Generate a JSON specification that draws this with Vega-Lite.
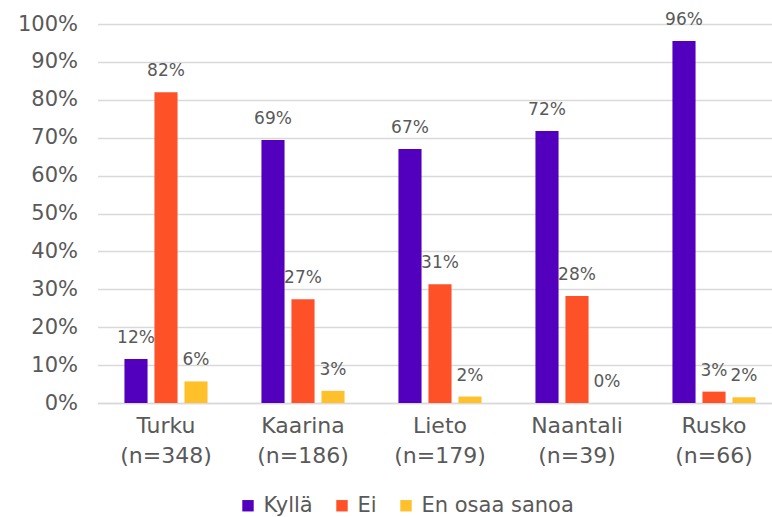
{
  "$schema": "https://vega.github.io/schema/vega-lite/v6.json",
  "autosize": "none",
  "width": 685,
  "height": 379,
  "padding": {"left": 97.5, "top": 24, "right": 0, "bottom": 114},
  "background": "white",
  "config": {
    "view": {"stroke": null},
    "font": "DejaVu Sans",
    "axis": {"labelColor": "#595959", "labelFont": "DejaVu Sans", "title": null}
  },
  "data": {
    "values": [
      {"city": "Turku|(n=348)", "series": "Kyllä", "value": 11.6, "label": "12%"},
      {"city": "Turku|(n=348)", "series": "Ei", "value": 82, "label": "82%"},
      {"city": "Turku|(n=348)", "series": "En osaa sanoa", "value": 5.7, "label": "6%"},
      {"city": "Kaarina|(n=186)", "series": "Kyllä", "value": 69.4, "label": "69%"},
      {"city": "Kaarina|(n=186)", "series": "Ei", "value": 27.4, "label": "27%"},
      {"city": "Kaarina|(n=186)", "series": "En osaa sanoa", "value": 3.2, "label": "3%"},
      {"city": "Lieto|(n=179)", "series": "Kyllä", "value": 67, "label": "67%"},
      {"city": "Lieto|(n=179)", "series": "Ei", "value": 31.3, "label": "31%"},
      {"city": "Lieto|(n=179)", "series": "En osaa sanoa", "value": 1.7, "label": "2%"},
      {"city": "Naantali|(n=39)", "series": "Kyllä", "value": 71.8, "label": "72%"},
      {"city": "Naantali|(n=39)", "series": "Ei", "value": 28.2, "label": "28%"},
      {"city": "Naantali|(n=39)", "series": "En osaa sanoa", "value": 0, "label": "0%"},
      {"city": "Rusko|(n=66)", "series": "Kyllä", "value": 95.5, "label": "96%"},
      {"city": "Rusko|(n=66)", "series": "Ei", "value": 3, "label": "3%"},
      {"city": "Rusko|(n=66)", "series": "En osaa sanoa", "value": 1.5, "label": "2%"}
    ]
  },
  "encoding": {
    "x": {
      "field": "city",
      "type": "nominal",
      "sort": null,
      "scale": {"paddingInner": 0.343, "paddingOuter": 0.1715},
      "axis": {
        "labelExpr": "split(datum.label, '|')",
        "labelAngle": 0,
        "labelFontSize": 22,
        "labelLineHeight": 30,
        "labelPadding": 12,
        "ticks": false,
        "domainColor": "#d9d9d9",
        "domainWidth": 1.5
      }
    },
    "xOffset": {
      "field": "series",
      "type": "nominal",
      "sort": ["Kyllä", "Ei", "En osaa sanoa"],
      "scale": {"paddingInner": 0.23, "paddingOuter": 0.115}
    },
    "y": {
      "field": "value",
      "type": "quantitative",
      "scale": {"domain": [0, 100], "nice": false},
      "axis": {
        "values": [0, 10, 20, 30, 40, 50, 60, 70, 80, 90, 100],
        "labelExpr": "datum.value + '%'",
        "labelFontSize": 21,
        "labelPadding": 20,
        "ticks": false,
        "domain": false,
        "grid": true,
        "gridColor": "#d9d9d9",
        "gridWidth": 1.5
      }
    }
  },
  "layer": [
    {
      "mark": {"type": "bar"},
      "encoding": {
        "color": {
          "field": "series",
          "type": "nominal",
          "sort": ["Kyllä", "Ei", "En osaa sanoa"],
          "scale": {"domain": ["Kyllä", "Ei", "En osaa sanoa"], "range": ["#5200BD", "#FF5128", "#FFC12B"]},
          "legend": {
            "title": null,
            "orient": "none",
            "direction": "horizontal",
            "legendX": 140,
            "legendY": 471,
            "symbolType": "square",
            "symbolSize": 130,
            "symbolStrokeWidth": 0,
            "labelFontSize": 21,
            "labelColor": "#595959",
            "labelOffset": 5,
            "columnPadding": 18
          }
        }
      }
    },
    {
      "mark": {"type": "text", "baseline": "middle", "dy": -21, "fontSize": 17, "color": "#595959"},
      "encoding": {"text": {"field": "label"}}
    }
  ]
}
